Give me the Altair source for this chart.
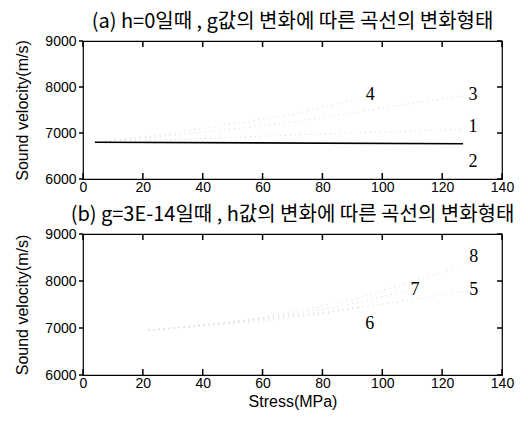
import altair as alt
import pandas as pd

# ---------------- data ----------------
x_ticks = [0, 20, 40, 60, 80, 100, 120, 140]
y_ticks = [6000, 7000, 8000, 9000]

# panel (a): h=0, varying g  (curves 1..4)
a_c1_x = [4, 40, 80, 127]
a_c1_y = [6800, 6880, 6980, 7080]
a_c2_x = [4, 127]
a_c2_y = [6800, 6765]
a_c3_x = [4, 30, 55, 80, 110, 127]
a_c3_y = [6800, 6950, 7120, 7330, 7650, 7800]
a_c4_x = [4, 25, 45, 70, 92]
a_c4_y = [6800, 6950, 7150, 7400, 7750]

a_lab_text = ["4", "3", "1", "2"]
a_lab_x = [96, 130.3, 130.3, 130.3]
a_lab_y = [7826, 7826, 7130, 6360]

# panel (b): g=3E-14, varying h (curves 5..8)
b_c5_x = [22, 50, 80, 110, 127]
b_c5_y = [6950, 7130, 7330, 7600, 7780]
b_c6_x = [22, 45, 60, 80, 92]
b_c6_y = [6950, 7070, 7150, 7300, 7450]
b_c7_x = [22, 45, 60, 85, 108]
b_c7_y = [6950, 7080, 7200, 7450, 7780]
b_c8_x = [22, 45, 60, 90, 125]
b_c8_y = [6950, 7100, 7220, 7600, 8280]

b_lab_text = ["8", "7", "5", "6"]
b_lab_x = [130.6, 110.9, 130.6, 95.8]
b_lab_y = [8510, 7810, 7810, 7085]

title_a = "(a) h=0일때 , g값의 변화에 따른 곡선의 변화형태"
title_b = "(b) g=3E-14일때 , h값의 변화에 따른 곡선의 변화형태"


def curves_frame(pairs):
    rows = []
    for name, xs, ys in pairs:
        for i, (xv, yv) in enumerate(zip(xs, ys)):
            rows.append({"curve": name, "x": xv, "y": yv, "o": i})
    return pd.DataFrame(rows)


SANS = "Liberation Sans"
SERIF = "Liberation Serif"
KR = "Noto Sans CJK KR"
W = 419


def panel(faint_df, solid_df, lab_df, title, xtitle, height):
    xs = alt.Scale(domain=[0, 140], nice=False, zero=False)
    ys = alt.Scale(domain=[6000, 9000], nice=False, zero=False)

    base_axis = dict(
        domain=False, ticks=False, grid=False,
        labelFont=SANS, labelFontSize=14, labelColor="black",
        titleFont=SANS, titleFontSize=16, titleFontWeight="normal", titleColor="black",
        format="d", labelFlush=False,
    )

    def X(field):
        return alt.X(field, scale=xs, axis=alt.Axis(
            values=x_ticks, orient="bottom", labelPadding=1,
            title=xtitle if xtitle else None, titlePadding=3, **base_axis))

    def Y(field):
        return alt.Y(field, scale=ys, axis=alt.Axis(
            values=y_ticks, orient="left", labelPadding=7,
            title="Sound velocity(m/s)", titlePadding=14, **base_axis))

    faint = alt.Chart(faint_df).mark_line(
        color="#d8d8d8", strokeDash=[1, 4], strokeWidth=1
    ).encode(x=X("x:Q"), y=Y("y:Q"), detail="curve:N", order="o:Q")

    layers = [faint]
    if solid_df is not None:
        solid = alt.Chart(solid_df).mark_line(color="black", strokeWidth=1.6).encode(
            x=X("x:Q"), y=Y("y:Q"), order="o:Q")
        layers.append(solid)

    text = alt.Chart(lab_df).mark_text(
        font=SERIF, fontSize=18, color="black", align="center", baseline="middle"
    ).encode(x=X("x:Q"), y=Y("y:Q"), text="t:N")
    layers.append(text)

    xt = pd.DataFrame({"v": x_ticks})
    yt = pd.DataFrame({"v": y_ticks})
    tick_style = dict(color="black", strokeWidth=1.5)
    ticks_bottom = alt.Chart(xt).mark_rule(**tick_style).encode(
        x=X("v:Q"), y=alt.value(height), y2=alt.value(height - 6))
    ticks_top = alt.Chart(xt).mark_rule(**tick_style).encode(
        x=X("v:Q"), y=alt.value(0), y2=alt.value(6))
    ticks_left = alt.Chart(yt).mark_rule(**tick_style).encode(
        y=Y("v:Q"), x=alt.value(-4), x2=alt.value(0))
    ticks_right = alt.Chart(yt).mark_rule(**tick_style).encode(
        y=Y("v:Q"), x=alt.value(W - 5), x2=alt.value(W))
    layers += [ticks_bottom, ticks_top, ticks_left, ticks_right]

    return alt.layer(*layers).properties(
        width=W,
        height=height,
        title=alt.TitleParams(title, font=KR, fontSize=20, fontWeight="normal",
                              color="black", anchor="middle", offset=2),
    )


a_faint = curves_frame([("1", a_c1_x, a_c1_y), ("3", a_c3_x, a_c3_y), ("4", a_c4_x, a_c4_y)])
a_solid = curves_frame([("2", a_c2_x, a_c2_y)])
a_lab = pd.DataFrame({"t": a_lab_text, "x": a_lab_x, "y": a_lab_y})

b_faint = curves_frame([("5", b_c5_x, b_c5_y), ("6", b_c6_x, b_c6_y),
                        ("7", b_c7_x, b_c7_y), ("8", b_c8_x, b_c8_y)])
b_lab = pd.DataFrame({"t": b_lab_text, "x": b_lab_x, "y": b_lab_y})

pa = panel(a_faint, a_solid, a_lab, title_a, None, 138)
pb = panel(b_faint, None, b_lab, title_b, "Stress(MPa)", 141)

chart = alt.vconcat(pa, pb, spacing=9).properties(
    padding={"left": 6, "top": 3, "right": 5, "bottom": 5},
    background="white",
).configure_view(stroke="black", strokeWidth=1.2)

chart.save("out.html", embed_options={"renderer": "svg", "actions": False})
